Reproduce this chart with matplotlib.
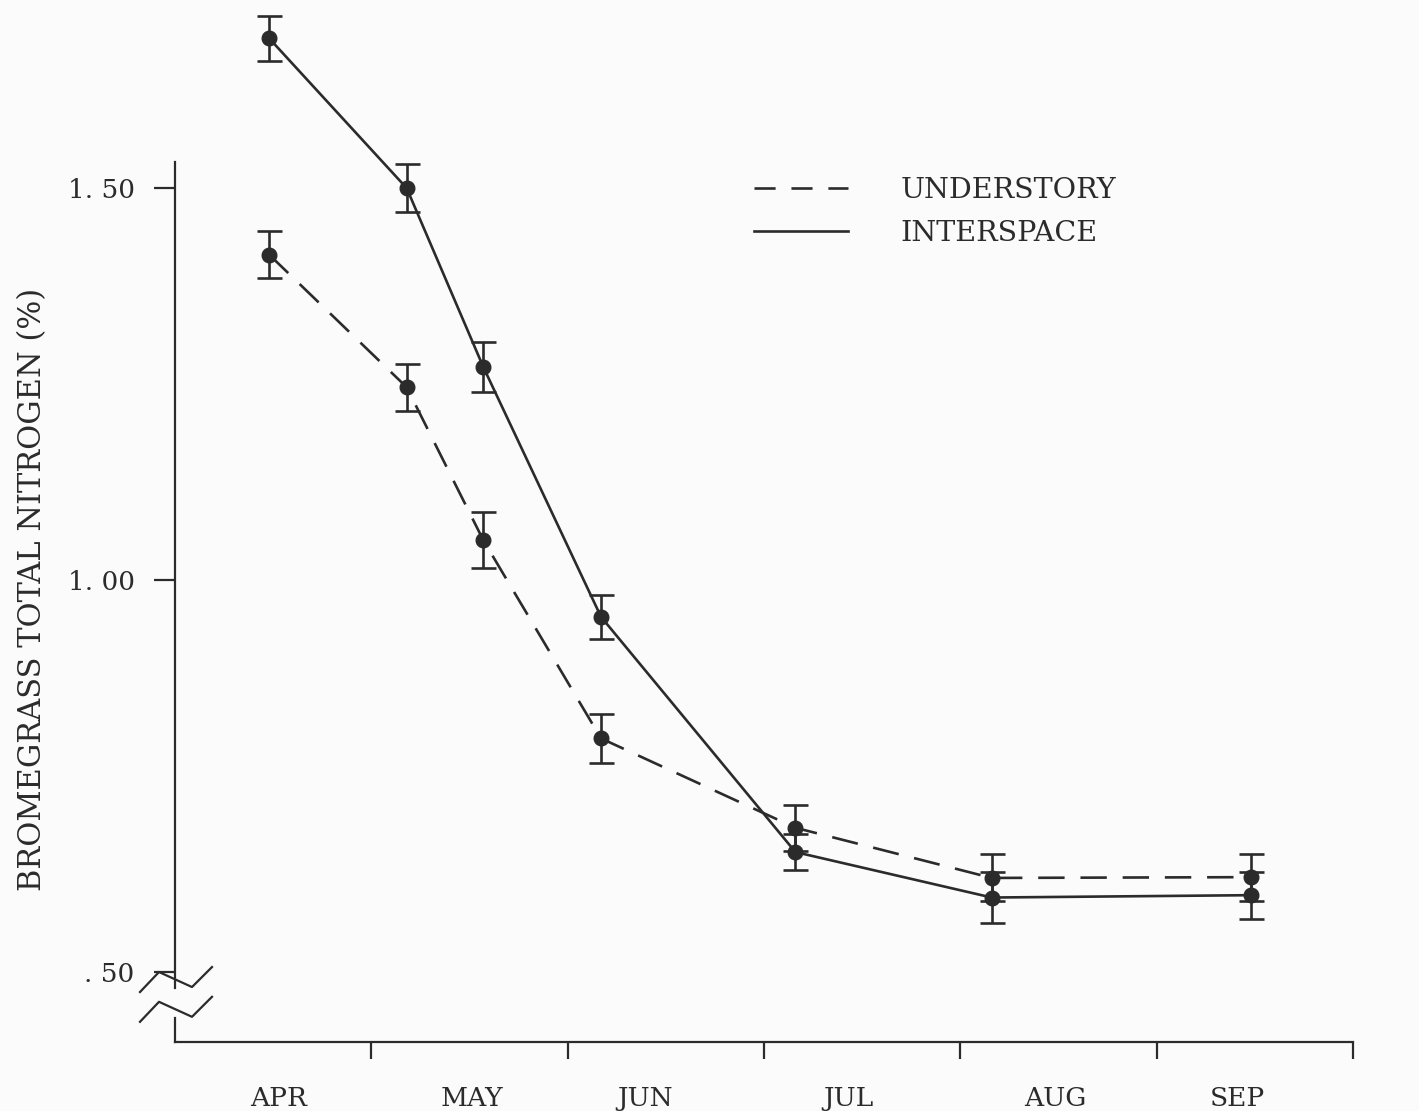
import matplotlib
matplotlib.use('Agg')
import matplotlib.pyplot as plt
from matplotlib.lines import Line2D
from matplotlib.transforms import Affine2D

# sampling dates, in months after 1 April
sample_x = [0.48, 1.18, 1.57, 2.17, 3.16, 4.16, 5.48]

understory = [1.415, 1.246, 1.051, 0.798, 0.684, 0.620, 0.621]
understory_err = [0.030, 0.030, 0.036, 0.031, 0.029, 0.030, 0.030]

interspace = [1.691, 1.500, 1.272, 0.953, 0.653, 0.595, 0.598]
interspace_err = [0.029, 0.031, 0.032, 0.028, 0.023, 0.032, 0.030]

months = ['APR', 'MAY', 'JUN', 'JUL', 'AUG', 'SEP']
month_label_x = [0.525, 1.513, 2.394, 3.428, 4.483, 5.41]
month_ticks = [1, 2, 3, 4, 5, 6]

y_ticks = [0.50, 1.00, 1.50]
y_tick_labels = ['. 50', '1. 00', '1. 50']

INK = '#2b2b2b'
plt.rcParams['font.family'] = ['DejaVu Serif']

fig = plt.figure(figsize=(14.19, 11.11), dpi=100, facecolor='#fbfbfb')
ax = fig.add_axes([175 / 1419, 69 / 1111, 1178 / 1419, 1042 / 1111])
ax.set_facecolor('#fbfbfb')
ax.set_xlim(0, 6)
ax.set_ylim(0.4107, 1.740)

ax.errorbar(sample_x, understory, yerr=understory_err, color=INK, lw=1.9,
            linestyle=(0, (10, 6)), marker='o', ms=10.5, elinewidth=1.9,
            capsize=9, capthick=1.9, clip_on=False, zorder=3)
ax.errorbar(sample_x, interspace, yerr=interspace_err, color=INK, lw=1.9,
            linestyle='-', marker='o', ms=10.5, elinewidth=1.9,
            capsize=9, capthick=1.9, clip_on=False, zorder=3)

# axes
for side in ['top', 'right']:
    ax.spines[side].set_visible(False)
ax.spines['left'].set_bounds(0.4796, 1.533)
for side in ['left', 'bottom']:
    ax.spines[side].set_color(INK)
    ax.spines[side].set_linewidth(1.6)
ax.plot([0, 0], [0.4107, 0.4413], transform=ax.get_yaxis_transform(),
        color=INK, lw=1.6, clip_on=False)

# axis break marks (offsets in pixels from the spine)
zig = [(-35, -2), (-16, 18), (17, 3), (37, 23)]
for ybreak in [0.477, 0.439]:
    x0, y0 = ax.get_yaxis_transform().transform((0, ybreak))
    tr = Affine2D().translate(x0, y0)
    ax.add_line(Line2D([p[0] for p in zig], [p[1] for p in zig],
                       transform=tr, color=INK, lw=1.6, clip_on=False))

ax.set_yticks(y_ticks)
ax.set_yticklabels(y_tick_labels)
ax.tick_params(axis='y', direction='out', length=15, width=1.6, color=INK,
               pad=14, labelsize=19, labelcolor=INK)

ax.set_xticks(month_ticks)
ax.set_xticklabels([])
ax.tick_params(axis='x', which='major', direction='out', length=12,
               width=1.6, color=INK)
ax.set_xticks(month_label_x, minor=True)
ax.set_xticklabels(months, minor=True)
ax.tick_params(axis='x', which='minor', length=0, pad=32, labelsize=19,
               labelcolor=INK)

ax.text(-0.121, 0.434, 'BROMEGRASS TOTAL NITROGEN (%)', transform=ax.transAxes,
        rotation=90, ha='center', va='center', fontsize=22, color=INK)

handles = [Line2D([], [], color=INK, lw=1.9, linestyle=(0, (8, 6))),
           Line2D([], [], color=INK, lw=1.9)]
ax.legend(handles, ['UNDERSTORY', 'INTERSPACE'], loc='upper left',
          bbox_to_anchor=(0.4915, 0.830), frameon=False, fontsize=20.5,
          handlelength=3.3, handletextpad=1.85, labelspacing=0.55,
          borderpad=0, borderaxespad=0, labelcolor=INK)

fig.savefig('out.png', dpi=100, facecolor=fig.get_facecolor())
